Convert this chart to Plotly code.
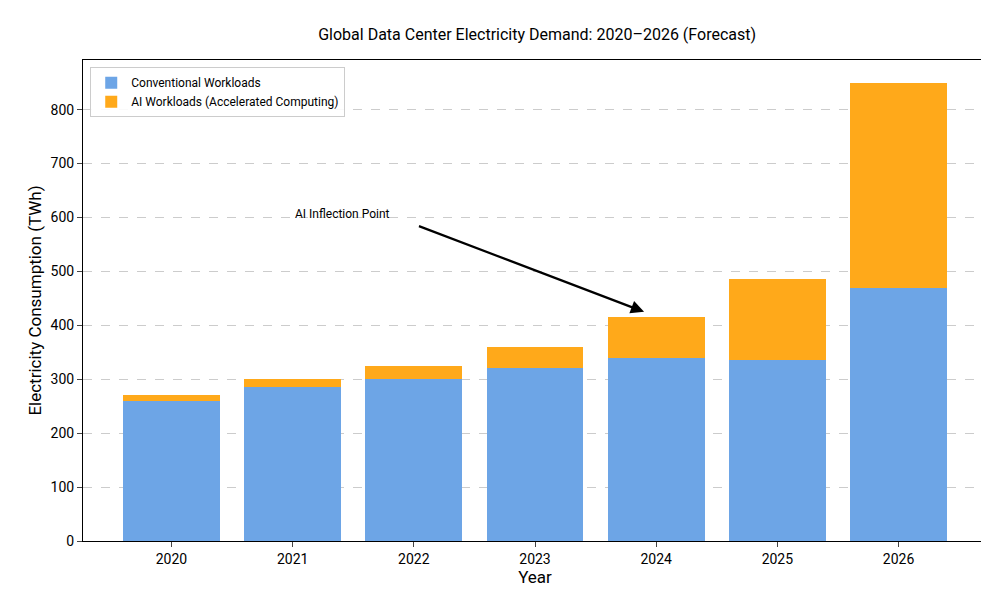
import plotly.graph_objects as go

years = [2020, 2021, 2022, 2023, 2024, 2025, 2026]
conventional = [260, 285, 300, 320, 340, 335, 470]
ai = [10, 15, 25, 40, 75, 150, 380]

blue = "#6DA5E6"
orange = "#FFA91A"

fig = go.Figure()
fig.add_trace(go.Bar(x=years, y=conventional, name="Conventional Workloads",
                     marker=dict(color=blue, line_width=0), width=0.8))
fig.add_trace(go.Bar(x=years, y=ai, name="AI Workloads (Accelerated Computing)",
                     marker=dict(color=orange, line_width=0), width=0.8))

# arrow from the label to the 2024 bar
fig.add_annotation(x=2023.9, y=425, ax=2022.03, ay=585, xref="x", yref="y",
                   axref="x", ayref="y", text="", showarrow=True,
                   arrowhead=2, arrowsize=1.2, arrowwidth=2.2, arrowcolor="black")
fig.add_annotation(x=2021.0, y=606, xref="x", yref="y", text="AI Inflection Point",
                   showarrow=False, xanchor="left", font=dict(size=12, color="black"))

fig.update_layout(
    width=989, height=590,
    barmode="stack",
    font=dict(family="Roboto, Inter, sans-serif", size=14, color="black"),
    title=dict(text="Global Data Center Electricity Demand: 2020–2026 (Forecast)",
               x=0.535, xanchor="center", y=0.965, yanchor="top", font=dict(size=16)),
    margin=dict(l=75, r=10, t=52, b=57, autoexpand=False),
    plot_bgcolor="white", paper_bgcolor="white",
    legend=dict(x=0.008, y=0.985, xanchor="left", yanchor="top", traceorder="normal",
                bordercolor="#cccccc", borderwidth=1, font=dict(size=12),
                bgcolor="rgba(255,255,255,0.9)"),
)
fig.update_xaxes(range=[2019.27, 2026.73], tickvals=years, ticks="outside",
                 showline=True, linecolor="black", mirror=True, showgrid=False,
                 automargin=False, title=dict(text="Year", standoff=4))
fig.update_yaxes(range=[0, 892], dtick=100, ticks="outside", showline=True,
                 linecolor="black", mirror=True, gridcolor="#cccccc", griddash="dash",
                 automargin=False, zeroline=False,
                 title=dict(text="Electricity Consumption (TWh)", standoff=4))

fig.write_html("out.html")
